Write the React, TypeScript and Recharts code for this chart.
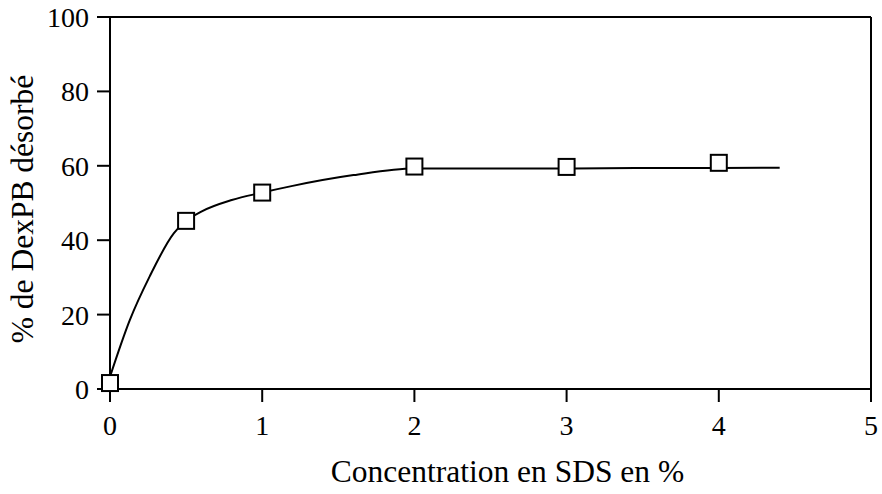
import React from "react";
import {
  ComposedChart,
  Line,
  Scatter,
  XAxis,
  YAxis,
  ReferenceLine,
  Label,
} from "recharts";

// Measured desorption (open squares)
const sdsConcentration = [0, 0.5, 1, 2, 3, 4];
const desorbedPercent = [1.6, 45.2, 52.8, 59.8, 59.7, 60.8];

// Fitted curve drawn through the measurements
const fitConcentration = [0, 0.13, 0.26, 0.42, 0.5, 0.6, 0.8, 1, 1.2, 1.6, 2, 2.5, 3, 3.5, 4, 4.4];
const fitPercent = [3.3, 18.5, 30.2, 41.9, 45.2, 47.7, 50.8, 52.8, 54.6, 57.5, 59.3, 59.3, 59.3, 59.4, 59.4, 59.5];

const xTicks = [0, 1, 2, 3, 4, 5];
const yTicks = [0, 20, 40, 60, 80, 100];

const xTitle = "Concentration en SDS en %";
const yTitle = "% de DexPB désorbé";

const points = sdsConcentration.map((x, i) => ({ x, y: desorbedPercent[i] }));
const fit = fitConcentration.map((x, i) => ({ x, y: fitPercent[i] }));

const FONT = "'Liberation Serif', 'Times New Roman', serif";

const SquareMark = (props: any) => {
  const { cx, cy } = props;
  const s = 16;
  return (
    <rect
      x={cx - s / 2}
      y={cy - s / 2}
      width={s}
      height={s}
      fill="#fff"
      stroke="#000"
      strokeWidth={2}
    />
  );
};

const XTitle = (props: any) => {
  const { x, y, width } = props.viewBox;
  return (
    <text
      x={x + width / 2 + 17}
      y={y + 93}
      textAnchor="middle"
      fontFamily={FONT}
      fontSize={31.5}
      fill="#000"
    >
      {xTitle}
    </text>
  );
};

const YTitle = (props: any) => {
  const { x, y, height } = props.viewBox;
  const cx = x + 33;
  const cy = y + height / 2 + 6;
  return (
    <text
      x={cx}
      y={cy}
      transform={`rotate(-90 ${cx} ${cy})`}
      textAnchor="middle"
      fontFamily={FONT}
      fontSize={31.5}
      fill="#000"
    >
      {yTitle}
    </text>
  );
};

export default function App() {
  return (
    <div style={{ position: "absolute", left: 0, top: 0, background: "#fff" }}>
      <ComposedChart
        width={882}
        height={494}
        margin={{ top: 17, right: 11, left: 0, bottom: 0 }}
      >
        <XAxis
          type="number"
          dataKey="x"
          domain={[0, 5]}
          ticks={xTicks}
          interval={0}
          height={105}
          tickSize={13}
          tickMargin={13}
          axisLine={{ stroke: "#000", strokeWidth: 2 }}
          tickLine={{ stroke: "#000", strokeWidth: 2 }}
          tick={{ fill: "#000", fontSize: 28, fontFamily: FONT }}
        >
          <Label content={<XTitle />} />
        </XAxis>
        <YAxis
          type="number"
          dataKey="y"
          domain={[0, 100]}
          ticks={yTicks}
          interval={0}
          width={110}
          tickSize={13}
          tickMargin={8}
          axisLine={{ stroke: "#000", strokeWidth: 2 }}
          tickLine={{ stroke: "#000", strokeWidth: 2 }}
          tick={{ fill: "#000", fontSize: 28, fontFamily: FONT }}
        >
          <Label content={<YTitle />} />
        </YAxis>
        <ReferenceLine y={100} stroke="#000" strokeWidth={2} />
        <ReferenceLine x={5} stroke="#000" strokeWidth={2} />
        <Line
          data={fit}
          dataKey="y"
          type="monotone"
          stroke="#000"
          strokeWidth={2}
          dot={false}
          activeDot={false}
          isAnimationActive={false}
        />
        <Scatter
          data={points}
          dataKey="y"
          shape={<SquareMark />}
          isAnimationActive={false}
        />
      </ComposedChart>
    </div>
  );
}
